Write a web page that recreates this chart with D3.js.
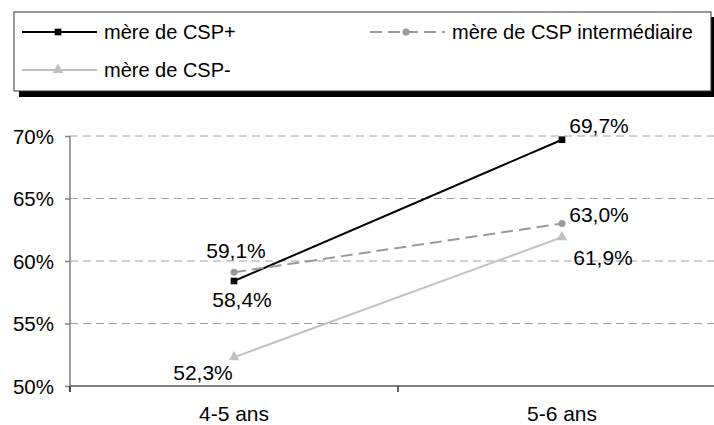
<!DOCTYPE html>
<html>
<head>
<meta charset="utf-8">
<script src="https://cdn.jsdelivr.net/npm/d3@7"></script>
<style>
  body { margin: 0; background: #fff; }
  text { font-family: "Liberation Sans", Arial, sans-serif; fill: #000; }
</style>
</head>
<body>
<div id="chart"></div>
<script>
// donnees
var categories = ["4-5 ans", "5-6 ans"];
var cspPlus = [58.4, 69.7];
var cspInter = [59.1, 63.0];
var cspMoins = [52.3, 61.9];
var seriesNames = ["mère de CSP+", "mère de CSP intermédiaire", "mère de CSP-"];
var yTicks = [50, 55, 60, 65, 70];

var width = 714, height = 425;

var svg = d3.select("#chart").append("svg")
    .attr("width", width)
    .attr("height", height);

var x = d3.scaleBand().domain(categories).range([70, 726]);
var y = d3.scaleLinear().domain([50, 70]).range([386, 136]);

function fmt(v) { return v.toFixed(1).replace(".", ",") + "%"; }

// grille
svg.selectAll(".grid")
    .data(yTicks.slice(1))
    .enter().append("line")
    .attr("x1", 70).attr("x2", width)
    .attr("y1", function(d) { return y(d); })
    .attr("y2", function(d) { return y(d); })
    .attr("stroke", "#a0a0a0")
    .attr("stroke-width", 1)
    .attr("stroke-dasharray", "8,5");

// axe y
var yAxis = svg.append("g")
    .attr("transform", "translate(70,0)")
    .call(d3.axisLeft(y).tickValues(yTicks).tickSize(5).tickFormat(function(d) { return d + "%"; }));
yAxis.select(".domain").remove();
yAxis.selectAll(".tick line").attr("stroke", "#808080").attr("stroke-width", 1.5);
yAxis.selectAll("text").style("font-size", "20.5px").attr("x", -16).attr("dy", "0.35em");
svg.append("line")
    .attr("x1", 70).attr("x2", 70)
    .attr("y1", y(70)).attr("y2", 392)
    .attr("stroke", "#808080").attr("stroke-width", 1.5);

// axe x
svg.append("line")
    .attr("x1", 70).attr("x2", width)
    .attr("y1", y(50)).attr("y2", y(50))
    .attr("stroke", "#808080").attr("stroke-width", 2);
var bounds = [70, 70 + x.bandwidth(), 70 + 2 * x.bandwidth()];
svg.selectAll(".xtick")
    .data(bounds)
    .enter().append("line")
    .attr("x1", function(d) { return d; }).attr("x2", function(d) { return d; })
    .attr("y1", y(50)).attr("y2", y(50) + 6)
    .attr("stroke", "#333").attr("stroke-width", 1.5);
svg.selectAll(".xlab")
    .data(categories)
    .enter().append("text")
    .attr("x", function(d) { return x(d) + x.bandwidth() / 2; })
    .attr("y", 421)
    .attr("text-anchor", "middle")
    .style("font-size", "21px")
    .text(function(d) { return d; });

function cx(i) { return x(categories[i]) + x.bandwidth() / 2; }

var line = d3.line()
    .x(function(d, i) { return cx(i); })
    .y(function(d) { return y(d); });

var series = [
    { values: cspPlus, color: "#000", dash: null, marker: d3.symbolSquare, msize: 44 },
    { values: cspInter, color: "#999", dash: "12,6", marker: d3.symbolCircle, msize: 40 },
    { values: cspMoins, color: "#c0c0c0", dash: null, marker: d3.symbolTriangle, msize: 50 }
];

series.forEach(function(s) {
    svg.append("path")
        .datum(s.values)
        .attr("d", line)
        .attr("fill", "none")
        .attr("stroke", s.color)
        .attr("stroke-width", 2)
        .attr("stroke-dasharray", s.dash);
    svg.selectAll(null)
        .data(s.values)
        .enter().append("path")
        .attr("d", d3.symbol().type(s.marker).size(s.msize))
        .attr("transform", function(d, i) { return "translate(" + cx(i) + "," + y(d) + ")"; })
        .attr("fill", s.color);
});

// etiquettes des valeurs
var labelOffsets = [
    [[8, 19], [37, -14]],
    [[2, -22], [37, -9]],
    [[-31, 15], [41, 20]]
];
series.forEach(function(s, k) {
    svg.selectAll(null)
        .data(s.values)
        .enter().append("text")
        .attr("x", function(d, i) { return cx(i) + labelOffsets[k][i][0]; })
        .attr("y", function(d, i) { return y(d) + labelOffsets[k][i][1]; })
        .attr("text-anchor", "middle")
        .attr("dy", "0.35em")
        .style("font-size", "21px")
        .text(function(d) { return fmt(d); });
});

// legende
svg.append("rect")
    .attr("x", 19).attr("y", 17)
    .attr("width", width - 19).attr("height", 80)
    .attr("fill", "#000");
svg.append("rect")
    .attr("x", 14).attr("y", 12)
    .attr("width", 697).attr("height", 79)
    .attr("fill", "#fff")
    .attr("stroke", "#333").attr("stroke-width", 1);

var legendPos = [[22, 32], [370, 32], [22, 70]];
series.forEach(function(s, k) {
    var g = svg.append("g").attr("transform", "translate(" + legendPos[k][0] + "," + legendPos[k][1] + ")");
    g.append("line")
        .attr("x1", 0).attr("x2", 75)
        .attr("stroke", s.color).attr("stroke-width", 2)
        .attr("stroke-dasharray", s.dash ? "12,6" : null);
    g.append("path")
        .attr("d", d3.symbol().type(s.marker).size(s.msize))
        .attr("transform", "translate(36,0)")
        .attr("fill", s.color);
    g.append("text")
        .attr("x", 82).attr("dy", "0.35em")
        .style("font-size", "20px")
        .text(seriesNames[k]);
});
</script>
</body>
</html>
